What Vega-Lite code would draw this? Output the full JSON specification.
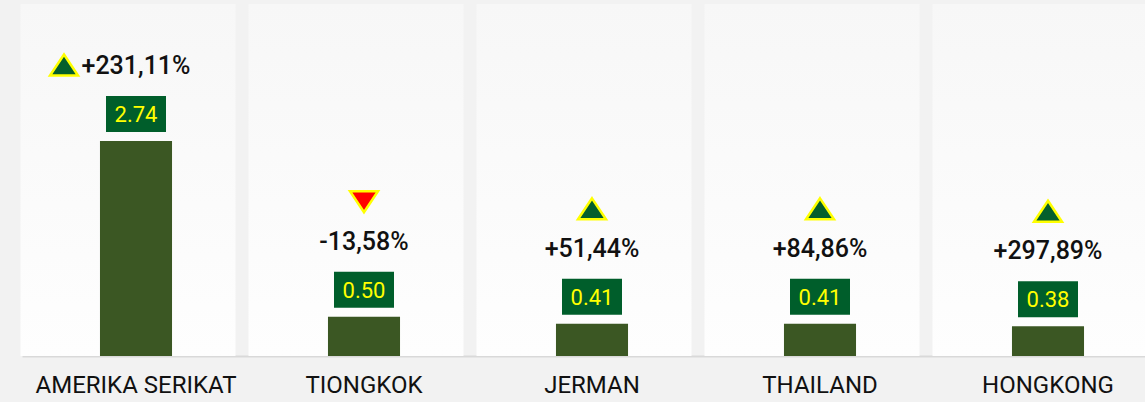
{
  "$schema": "https://vega.github.io/schema/vega-lite/v6.json",
  "width": 1145,
  "height": 356,
  "autosize": "none",
  "padding": {"left": 0, "top": 0, "right": 0, "bottom": 46},
  "background": "#f2f2f2",
  "config": {"view": {"stroke": null}},
  "data": {
    "values": [
      {"country": "AMERIKA SERIKAT", "value": 2.74, "change": "+231,11%", "dir": "up"},
      {"country": "TIONGKOK", "value": 0.50, "change": "-13,58%", "dir": "down"},
      {"country": "JERMAN", "value": 0.41, "change": "+51,44%", "dir": "up"},
      {"country": "THAILAND", "value": 0.41, "change": "+84,86%", "dir": "up"},
      {"country": "HONGKONG", "value": 0.38, "change": "+297,89%", "dir": "up"}
    ]
  },
  "encoding": {
    "x": {
      "field": "country",
      "type": "nominal",
      "sort": null,
      "scale": {"range": [22, 1162], "paddingInner": 0, "paddingOuter": 0},
      "axis": {
        "title": null,
        "domainColor": "#d9d9d9",
        "domainWidth": 2,
        "ticks": false,
        "labelAngle": 0,
        "labelFont": "Roboto",
        "labelFontSize": 24,
        "labelColor": "#111111",
        "labelPadding": 17,
        "labelLimit": 300
      }
    }
  },
  "layer": [
    {
      "mark": {
        "type": "bar",
        "width": {"band": 0.943},
        "xOffset": -8,
        "fill": {
          "gradient": "linear",
          "x1": 0, "y1": 0, "x2": 0, "y2": 1,
          "stops": [
            {"offset": 0, "color": "#f7f7f7"},
            {"offset": 1, "color": "#fefefe"}
          ]
        }
      },
      "encoding": {
        "y": {"datum": 4.486, "type": "quantitative", "scale": {"domain": [0, 4.537], "nice": false, "zero": true}, "axis": null},
        "y2": {"datum": 0}
      }
    },
    {
      "mark": {"type": "bar", "width": {"band": 0.316}, "color": "#3b5723"},
      "encoding": {
        "y": {"field": "value", "type": "quantitative", "scale": {"domain": [0, 4.537], "nice": false, "zero": true}, "axis": null}
      }
    },
    {
      "mark": {
        "type": "point",
        "shape": "M-1,-0.6L1,-0.6L1,0.6L-1,0.6Z",
        "size": 3600,
        "filled": true,
        "opacity": 1,
        "color": "#005e2b",
        "strokeWidth": 0,
        "yOffset": -27
      },
      "encoding": {"y": {"field": "value", "type": "quantitative"}}
    },
    {
      "mark": {
        "type": "text",
        "font": "Roboto",
        "fontSize": 22,
        "color": "#ffff00",
        "baseline": "middle",
        "yOffset": -26
      },
      "encoding": {
        "y": {"field": "value", "type": "quantitative"},
        "text": {"field": "value", "type": "quantitative", "format": ".2f"}
      }
    },
    {
      "mark": {
        "type": "text",
        "font": "Roboto",
        "fontSize": 25,
        "fontWeight": 500,
        "color": "#111111",
        "baseline": "middle",
        "yOffset": -75
      },
      "encoding": {
        "y": {"field": "value", "type": "quantitative"},
        "text": {"field": "change", "type": "nominal"}
      }
    },
    {
      "transform": [{"filter": "datum.dir == 'up' && datum.country != 'AMERIKA SERIKAT'"}],
      "mark": {
        "type": "point",
        "shape": "M0,-0.75L1,0.75L-1,0.75Z",
        "size": 784,
        "filled": true,
        "opacity": 1,
        "fill": "#045f2c",
        "stroke": "#ffff00",
        "strokeWidth": 2.5,
        "yOffset": -115
      },
      "encoding": {"y": {"field": "value", "type": "quantitative"}}
    },
    {
      "transform": [{"filter": "datum.country == 'AMERIKA SERIKAT'"}],
      "mark": {
        "type": "point",
        "shape": "M0,-0.75L1,0.75L-1,0.75Z",
        "size": 784,
        "filled": true,
        "opacity": 1,
        "fill": "#045f2c",
        "stroke": "#ffff00",
        "strokeWidth": 2.5,
        "xOffset": -72,
        "yOffset": -76
      },
      "encoding": {"y": {"field": "value", "type": "quantitative"}}
    },
    {
      "transform": [{"filter": "datum.dir == 'down'"}],
      "mark": {
        "type": "point",
        "shape": "M-1,-0.75L1,-0.75L0,0.75Z",
        "size": 784,
        "filled": true,
        "opacity": 1,
        "fill": "#ff0000",
        "stroke": "#ffff00",
        "strokeWidth": 2.5,
        "yOffset": -115
      },
      "encoding": {"y": {"field": "value", "type": "quantitative"}}
    }
  ]
}
